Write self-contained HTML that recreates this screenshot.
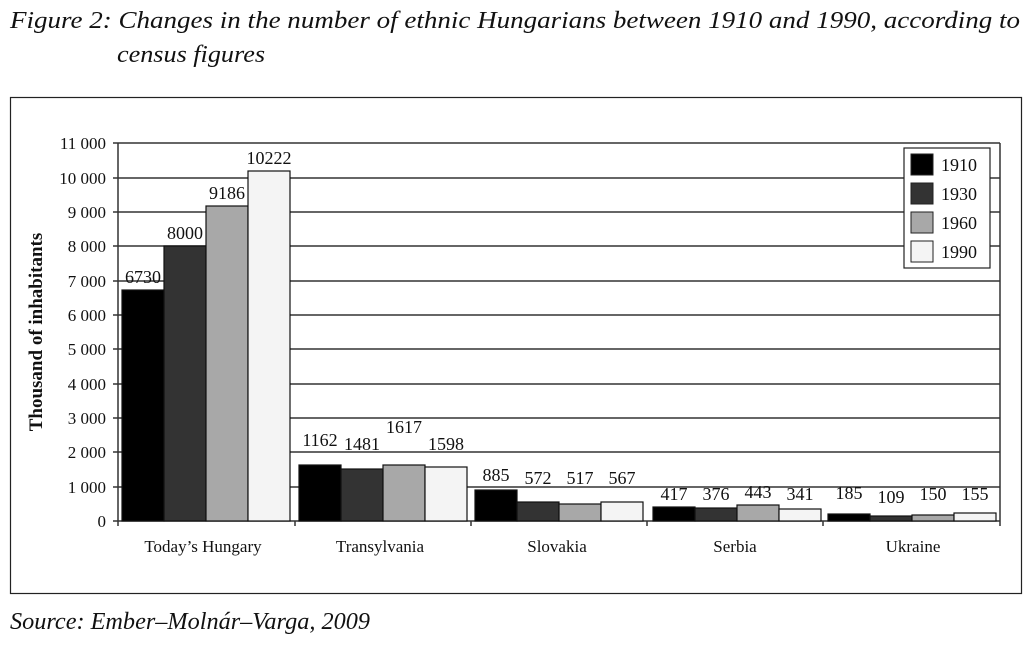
<!DOCTYPE html>
<html><head><style>
body{margin:0;background:#fff;width:1035px;height:646px;overflow:hidden}
svg{display:block}
text{font-family:"Liberation Serif",serif;fill:#111}
</style></head><body>
<svg width="1035" height="646" viewBox="0 0 1035 646">
<text x="10" y="28" font-size="24" font-style="italic" textLength="1010" lengthAdjust="spacingAndGlyphs">Figure 2: Changes in the number of ethnic Hungarians between 1910 and 1990, according to</text>
<text x="117" y="62" font-size="24" font-style="italic" textLength="148" lengthAdjust="spacingAndGlyphs">census figures</text>
<text x="10" y="629" font-size="24" font-style="italic" textLength="360" lengthAdjust="spacingAndGlyphs">Source: Ember–Molnár–Varga, 2009</text>
<rect x="10.5" y="97.5" width="1011" height="496" fill="none" stroke="#222" stroke-width="1.2"/>
<g stroke="#333" stroke-width="1.5">
<line x1="118" y1="143" x2="1000" y2="143"/>
<line x1="118" y1="178" x2="1000" y2="178"/>
<line x1="118" y1="212" x2="1000" y2="212"/>
<line x1="118" y1="246" x2="1000" y2="246"/>
<line x1="118" y1="281" x2="1000" y2="281"/>
<line x1="118" y1="315" x2="1000" y2="315"/>
<line x1="118" y1="349" x2="1000" y2="349"/>
<line x1="118" y1="384" x2="1000" y2="384"/>
<line x1="118" y1="418" x2="1000" y2="418"/>
<line x1="118" y1="452" x2="1000" y2="452"/>
<line x1="118" y1="487" x2="1000" y2="487"/>
<line x1="118" y1="521" x2="1000" y2="521"/>
<line x1="118" y1="143" x2="118" y2="526"/>
<line x1="1000" y1="143" x2="1000" y2="521"/>
<line x1="295" y1="521" x2="295" y2="526"/>
<line x1="471" y1="521" x2="471" y2="526"/>
<line x1="647" y1="521" x2="647" y2="526"/>
<line x1="823" y1="521" x2="823" y2="526"/>
<line x1="1000" y1="521" x2="1000" y2="526"/>
<line x1="113" y1="143" x2="118" y2="143"/><line x1="113" y1="178" x2="118" y2="178"/><line x1="113" y1="212" x2="118" y2="212"/><line x1="113" y1="246" x2="118" y2="246"/><line x1="113" y1="281" x2="118" y2="281"/><line x1="113" y1="315" x2="118" y2="315"/><line x1="113" y1="349" x2="118" y2="349"/><line x1="113" y1="384" x2="118" y2="384"/><line x1="113" y1="418" x2="118" y2="418"/><line x1="113" y1="452" x2="118" y2="452"/><line x1="113" y1="487" x2="118" y2="487"/><line x1="113" y1="521" x2="118" y2="521"/>
</g>
<g font-size="17" text-anchor="end">
<text x="106" y="149">11 000</text><text x="106" y="184">10 000</text><text x="106" y="218">9 000</text><text x="106" y="252">8 000</text><text x="106" y="287">7 000</text><text x="106" y="321">6 000</text><text x="106" y="355">5 000</text><text x="106" y="390">4 000</text><text x="106" y="424">3 000</text><text x="106" y="458">2 000</text><text x="106" y="493">1 000</text><text x="106" y="527">0</text>
</g>
<text transform="translate(42,332) rotate(-90)" font-size="19" font-weight="bold" text-anchor="middle">Thousand of inhabitants</text>
<g stroke="#111" stroke-width="1.2">
<rect x="122" y="290" width="42" height="231" fill="#000"/>
<rect x="164" y="246" width="42" height="275" fill="#333"/>
<rect x="206" y="206" width="42" height="315" fill="#a8a8a8"/>
<rect x="248" y="171" width="42" height="350" fill="#f4f4f4"/>
<rect x="299" y="465" width="42" height="56" fill="#000"/>
<rect x="341" y="469" width="42" height="52" fill="#333"/>
<rect x="383" y="465" width="42" height="56" fill="#a8a8a8"/>
<rect x="425" y="467" width="42" height="54" fill="#f4f4f4"/>
<rect x="475" y="490" width="42" height="31" fill="#000"/>
<rect x="517" y="502" width="42" height="19" fill="#333"/>
<rect x="559" y="504" width="42" height="17" fill="#a8a8a8"/>
<rect x="601" y="502" width="42" height="19" fill="#f4f4f4"/>
<rect x="653" y="507" width="42" height="14" fill="#000"/>
<rect x="695" y="508" width="42" height="13" fill="#333"/>
<rect x="737" y="505" width="42" height="16" fill="#a8a8a8"/>
<rect x="779" y="509" width="42" height="12" fill="#f4f4f4"/>
<rect x="828" y="514" width="42" height="7" fill="#000"/>
<rect x="870" y="516" width="42" height="5" fill="#333"/>
<rect x="912" y="515" width="42" height="6" fill="#a8a8a8"/>
<rect x="954" y="513" width="42" height="8" fill="#f4f4f4"/>
</g>
<g font-size="18" text-anchor="middle">
<text x="143" y="283">6730</text><text x="185" y="239">8000</text><text x="227" y="199">9186</text><text x="269" y="164">10222</text>
<text x="320" y="446">1162</text><text x="362" y="450">1481</text><text x="404" y="433">1617</text><text x="446" y="450">1598</text>
<text x="496" y="481">885</text><text x="538" y="484">572</text><text x="580" y="484">517</text><text x="622" y="484">567</text>
<text x="674" y="500">417</text><text x="716" y="500">376</text><text x="758" y="498">443</text><text x="800" y="500">341</text>
<text x="849" y="499">185</text><text x="891" y="503">109</text><text x="933" y="500">150</text><text x="975" y="500">155</text>
</g>
<g font-size="17" text-anchor="middle">
<text x="203" y="552">Today’s Hungary</text><text x="380" y="552">Transylvania</text><text x="557" y="552">Slovakia</text><text x="735" y="552">Serbia</text><text x="913" y="552">Ukraine</text>
</g>
<rect x="904" y="148" width="86" height="120" fill="#fff" stroke="#222" stroke-width="1.2"/>
<g stroke="#222" stroke-width="1">
<rect x="911" y="154" width="22" height="21" fill="#000"/>
<rect x="911" y="183" width="22" height="21" fill="#333"/>
<rect x="911" y="212" width="22" height="21" fill="#a8a8a8"/>
<rect x="911" y="241" width="22" height="21" fill="#f4f4f4"/>
</g>
<g font-size="18"><text x="941" y="171">1910</text><text x="941" y="200">1930</text><text x="941" y="229">1960</text><text x="941" y="258">1990</text></g>
</svg>
</body></html>
